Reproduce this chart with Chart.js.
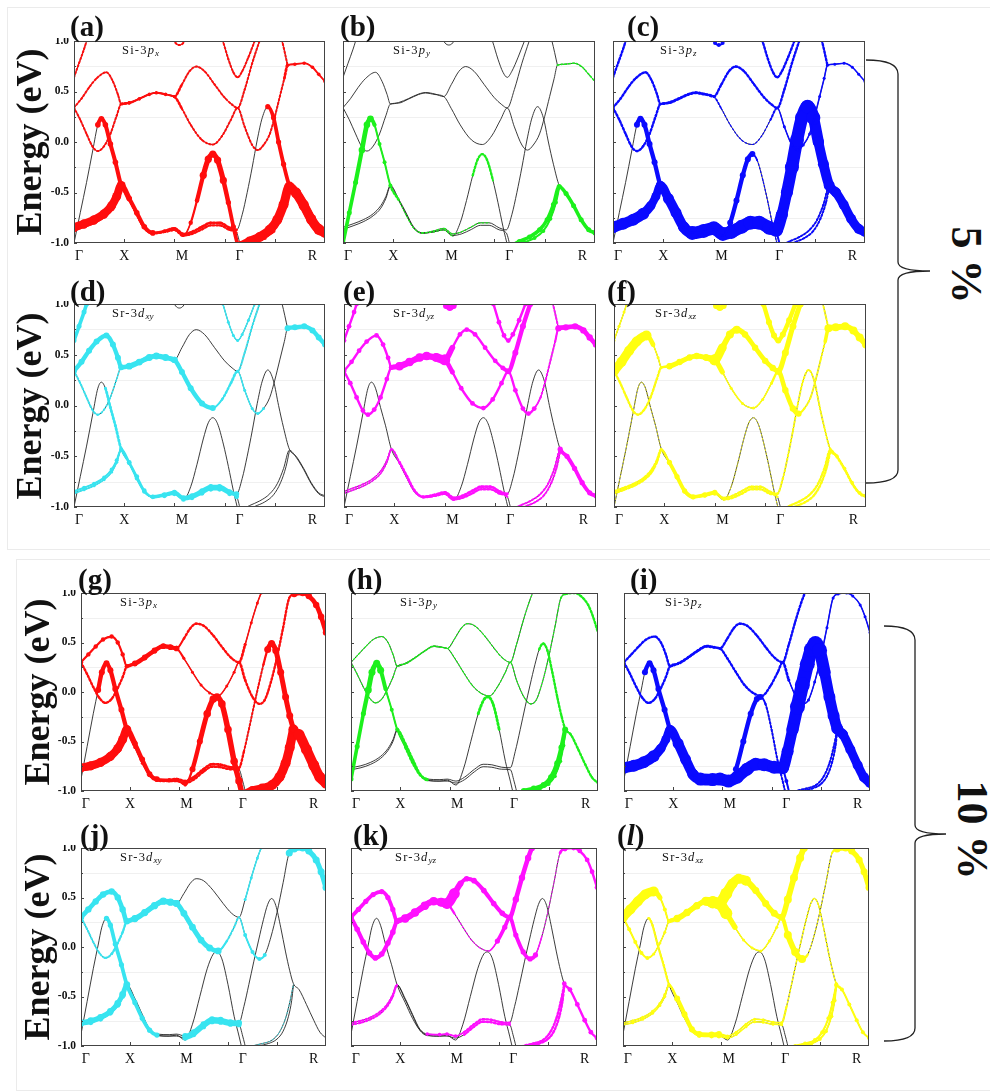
<!DOCTYPE html>
<html>
<head>
<meta charset="utf-8">
<script src="https://cdn.jsdelivr.net/npm/chart.js@4.4.1/dist/chart.umd.min.js"></script>
<style>
  body { margin: 0; width: 990px; height: 1091px; position: relative; background: #fff; overflow: hidden;
         font-family: "Liberation Serif", "DejaVu Serif", serif; color: #111; }
  .box { position: absolute; border: 1px solid #ebebeb; }
  canvas { position: absolute; }
  .tag { position: absolute; font-size: 29px; font-weight: bold; line-height: 28px; }
  .elab { position: absolute; width: 240px; height: 40px; line-height: 40px; text-align: center;
          font-size: 36px; font-weight: bold; transform: rotate(-90deg); white-space: nowrap; }
  .orb { position: absolute; font-size: 12.5px; line-height: 14px; letter-spacing: 1.2px; white-space: nowrap; }
  .orb sub { font-size: 9px; letter-spacing: 0; vertical-align: -2px; }
  .pct { position: absolute; width: 140px; height: 50px; line-height: 50px; text-align: center;
         font-size: 44px; font-weight: bold; transform: rotate(90deg); white-space: nowrap; }
  svg { position: absolute; left: 0; top: 0; }
</style>
</head>
<body>
<div class="box" style="left:7px;top:7px;width:983px;height:541px"></div>
<div class="box" style="left:16px;top:559px;width:975px;height:530px"></div>
<svg width="990" height="1091">
  <path d="M866,60 Q898,60 898,74 L898,262 Q898,271 930,271 Q898,271 898,280 L898,470 Q898,483 866,483" fill="none" stroke="#222" stroke-width="1.3"/>
  <path d="M884,626 Q915,626 915,640 L915,825 Q915,834 946,834 Q915,834 915,843 L915,1028 Q915,1041 884,1041" fill="none" stroke="#222" stroke-width="1.3"/>
</svg>
<div class="pct" style="left:896px;top:240px">5 %</div>
<div class="pct" style="left:902px;top:805px">10 %</div>

<script>
// k-path and energy axis
const kLabels = ['Γ', 'X', 'M', 'Γ', 'R'];
const kLabelPos = [0.02, 0.2, 0.43, 0.66, 0.95];
const kTicks = [0.2, 0.4, 0.6, 0.8];
const eTicks = [-1, -0.5, 0, 0.5, 1];
const eTickLabels = ['-1.0', '-0.5', '0.0', '0.5', '1.0'];
const eMinor = [-0.75, -0.25, 0.25, 0.75];

// 5 % bands, [k, E]
const g1P1 = [[0,0.34],[0.03,0.43],[0.06,0.54],[0.09,0.63],[0.129,0.69],[0.155,0.6],[0.175,0.47],[0.188,0.376],[0.22,0.39],[0.26,0.43],[0.3,0.475],[0.328,0.49],[0.365,0.475],[0.4,0.45],[0.43,0.57],[0.46,0.7],[0.487,0.747],[0.52,0.7],[0.56,0.57],[0.6,0.44],[0.63,0.37],[0.652,0.337],[0.68,0.52],[0.71,0.78],[0.739,1],[0.76,1.15]];
const g1P2 = [[0,0.34],[0.025,0.22],[0.05,0.08],[0.075,-0.05],[0.095,-0.09],[0.12,-0.04],[0.145,0.08],[0.17,0.26],[0.188,0.376],[0.22,0.385],[0.26,0.425],[0.3,0.47],[0.328,0.485],[0.365,0.47],[0.4,0.45],[0.43,0.33],[0.465,0.17],[0.51,0.02],[0.553,-0.025],[0.59,0.06],[0.625,0.22],[0.652,0.337],[0.68,0.15],[0.71,-0.03],[0.732,-0.08],[0.755,-0.03],[0.78,0.08],[0.8,0.25],[0.82,0.45],[0.838,0.63],[0.851,0.76],[0.88,0.77],[0.917,0.78],[0.95,0.74],[0.975,0.67],[1,0.6]];
const g1P3 = [[0,-1],[0.025,-0.7],[0.05,-0.4],[0.075,-0.08],[0.095,0.17],[0.109,0.23],[0.125,0.17],[0.145,-0.02],[0.165,-0.2],[0.188,-0.43],[0.22,-0.57],[0.25,-0.72],[0.28,-0.85],[0.314,-0.9],[0.36,-0.89],[0.4,-0.87],[0.436,-0.93],[0.465,-0.8],[0.49,-0.58],[0.515,-0.33],[0.535,-0.17],[0.553,-0.12],[0.572,-0.18],[0.595,-0.38],[0.615,-0.6],[0.635,-0.84],[0.655,-1.05]];
const g1P4 = [[0,-0.845],[0.04,-0.81],[0.08,-0.77],[0.12,-0.71],[0.15,-0.63],[0.17,-0.54],[0.188,-0.43],[0.22,-0.56],[0.25,-0.7],[0.28,-0.84],[0.314,-0.9],[0.36,-0.88],[0.4,-0.855],[0.436,-0.91],[0.47,-0.89],[0.51,-0.84],[0.545,-0.8],[0.58,-0.8],[0.62,-0.85],[0.648,-0.87],[0.67,-0.72],[0.69,-0.5],[0.71,-0.25],[0.73,0.02],[0.75,0.24],[0.772,0.35],[0.795,0.24],[0.815,0],[0.835,-0.22],[0.858,-0.43],[0.885,-0.5],[0.915,-0.62],[0.945,-0.76],[0.975,-0.86],[1,-0.89]];
const g1P5 = [[0,-0.865],[0.04,-0.83],[0.08,-0.79],[0.12,-0.73],[0.15,-0.655],[0.17,-0.56],[0.188,-0.44],[0.22,-0.57],[0.25,-0.71],[0.28,-0.85],[0.314,-0.905],[0.36,-0.89],[0.4,-0.87],[0.436,-0.925],[0.47,-0.91],[0.51,-0.865],[0.545,-0.825],[0.58,-0.825],[0.62,-0.87],[0.648,-0.9],[0.665,-1.05]];
const g1L1 = [[0.665,-1.03],[0.7,-0.985],[0.74,-0.94],[0.78,-0.87],[0.81,-0.77],[0.835,-0.62],[0.858,-0.44],[0.885,-0.51],[0.915,-0.63],[0.945,-0.77],[0.975,-0.87],[1,-0.9]];
const g1L2 = [[0.685,-1.04],[0.72,-0.995],[0.76,-0.95],[0.795,-0.88],[0.823,-0.76],[0.845,-0.6],[0.858,-0.45]];
const g1A = [[0,0.64],[0.02,0.78],[0.04,0.92],[0.05,1],[0.065,1.15]];
const g1G = [[0.57,1.15],[0.593,1],[0.615,0.82],[0.635,0.69],[0.652,0.64],[0.67,0.7],[0.695,0.84],[0.72,1],[0.74,1.12]];
const g1T = [[0.39,1.05],[0.405,0.98],[0.42,0.96],[0.435,0.98],[0.45,1.05]];
const g1K = [[0.81,1.15],[0.829,1],[0.851,0.76]];

// 10 % bands, [k, E]
const g2P1 = [[0,0.3],[0.03,0.38],[0.06,0.46],[0.09,0.53],[0.125,0.56],[0.15,0.5],[0.17,0.38],[0.187,0.26],[0.22,0.29],[0.26,0.35],[0.3,0.42],[0.336,0.465],[0.365,0.455],[0.39,0.44],[0.42,0.54],[0.445,0.64],[0.47,0.69],[0.5,0.67],[0.54,0.57],[0.58,0.44],[0.615,0.34],[0.645,0.3],[0.67,0.48],[0.695,0.7],[0.72,0.9],[0.735,1],[0.755,1.15]];
const g2P2 = [[0,0.3],[0.025,0.18],[0.05,0.05],[0.075,-0.06],[0.099,-0.11],[0.125,-0.07],[0.15,0.04],[0.17,0.15],[0.187,0.26],[0.22,0.285],[0.26,0.345],[0.3,0.415],[0.336,0.46],[0.365,0.45],[0.39,0.44],[0.42,0.34],[0.455,0.2],[0.49,0.07],[0.525,-0.01],[0.56,-0.04],[0.595,0.06],[0.625,0.2],[0.645,0.3],[0.67,0.12],[0.7,-0.05],[0.728,-0.12],[0.75,-0.08],[0.775,0.1],[0.8,0.35],[0.825,0.65],[0.85,0.95],[0.87,0.99],[0.905,1],[0.93,0.97],[0.96,0.88],[0.98,0.76],[1,0.6]];
const g2P3 = [[0,-0.88],[0.025,-0.55],[0.05,-0.22],[0.07,0.02],[0.085,0.2],[0.104,0.29],[0.12,0.22],[0.14,0.03],[0.165,-0.18],[0.187,-0.38],[0.22,-0.56],[0.25,-0.72],[0.28,-0.84],[0.31,-0.89],[0.36,-0.9],[0.39,-0.89],[0.425,-0.94],[0.455,-0.78],[0.485,-0.5],[0.515,-0.22],[0.54,-0.07],[0.555,-0.05],[0.575,-0.12],[0.6,-0.38],[0.625,-0.7],[0.645,-0.9],[0.66,-1.06]];
const g2P4 = [[0,-0.765],[0.04,-0.745],[0.08,-0.71],[0.12,-0.65],[0.15,-0.57],[0.17,-0.48],[0.187,-0.38],[0.22,-0.52],[0.25,-0.68],[0.28,-0.83],[0.31,-0.88],[0.36,-0.885],[0.39,-0.88],[0.425,-0.9],[0.46,-0.86],[0.5,-0.78],[0.535,-0.73],[0.57,-0.735],[0.61,-0.76],[0.645,-0.765],[0.665,-0.6],[0.685,-0.38],[0.705,-0.15],[0.725,0.07],[0.745,0.28],[0.762,0.43],[0.778,0.49],[0.795,0.42],[0.815,0.2],[0.835,-0.05],[0.852,-0.24],[0.867,-0.37],[0.89,-0.43],[0.92,-0.58],[0.95,-0.74],[0.975,-0.86],[1,-0.92]];
const g2P5 = [[0,-0.785],[0.04,-0.765],[0.08,-0.73],[0.12,-0.67],[0.15,-0.59],[0.17,-0.5],[0.187,-0.39],[0.22,-0.53],[0.25,-0.69],[0.28,-0.84],[0.31,-0.895],[0.36,-0.9],[0.39,-0.9],[0.425,-0.92],[0.46,-0.885],[0.5,-0.805],[0.535,-0.755],[0.57,-0.76],[0.61,-0.78],[0.645,-0.785],[0.66,-0.9],[0.675,-1.05]];
const g2L1 = [[0.665,-1.04],[0.7,-1],[0.74,-0.975],[0.78,-0.94],[0.81,-0.86],[0.835,-0.72],[0.852,-0.56],[0.867,-0.38]];
const g2L2 = [[0.69,-1.04],[0.725,-1],[0.765,-0.975],[0.8,-0.93],[0.825,-0.85],[0.847,-0.7],[0.86,-0.54],[0.867,-0.39]];

// orbital weights (marker radius) per panel: [kFrom, kTo, radius] or one radius for the whole band
const wA = { P1: [[0,0.188,1],[0.188,0.4,1.6],[0.4,1,1]], P2: [[0,0.188,1],[0.188,0.4,1.6],[0.4,0.84,1],[0.84,1,1.8]],
  P3: [[0.08,0.2,2.8],[0.2,0.44,1.2],[0.44,0.5,2.2],[0.5,0.6,3.6],[0.6,0.66,2.6]],
  P4: [[0,0.188,4.5],[0.188,0.32,2.8],[0.32,0.65,1.4],[0.76,0.858,2.6],[0.858,1,5]],
  P5: [[0,0.188,3],[0.188,0.65,1.2]], L1: 5, L2: 2, A: 1, G: 1, T: 1, K: 1 };
const wB = { P2: [[0.84,1,0.8]], P3: [[0,0.06,2.5],[0.06,0.12,3.3],[0.12,0.188,2],[0.188,0.44,0.6],[0.5,0.6,1.2]],
  P4: [[0.3,0.6,0.6],[0.858,1,0.8]], L1: 2.5, L2: 2 };
const wC = { P1: 1.2, P2: [[0,0.4,1.2],[0.4,0.65,0.6],[0.65,1,1.5]],
  P3: [[0.08,0.188,3],[0.188,0.44,1.2],[0.44,0.56,3],[0.56,0.66,0.6]],
  P4: [[0,0.12,6],[0.12,0.188,4.5],[0.188,0.3,5.5],[0.3,0.65,7],[0.65,0.7,6],[0.7,0.8,7],[0.8,0.858,5.5],[0.858,1,5]],
  P5: 2, L1: 1, L2: 1, A: 1.2, G: 1.2, T: 2, K: 1.2 };
const wD = { P1: [[0,0.188,3],[0.188,0.4,3.2],[0.65,0.76,1]],
  P2: [[0,0.1,1],[0.1,0.188,0.8],[0.188,0.4,3.2],[0.4,0.56,3],[0.56,0.65,1.2],[0.65,0.76,1.5],[0.84,1,3]],
  P3: [[0.11,0.188,1.4],[0.188,0.32,2]], P4: [[0,0.188,2],[0.188,0.32,2.4],[0.32,0.65,2.6]],
  P5: [[0,0.188,1.6],[0.32,0.65,2.4]], A: 2.5, G: 1.5 };
const wE = { P1: [[0,0.188,2.4],[0.188,0.38,4],[0.38,0.42,5.5],[0.42,0.65,2.4],[0.65,0.76,3]],
  P2: [[0,0.188,2.4],[0.188,0.4,4],[0.4,0.76,2.4],[0.76,0.84,1],[0.84,1,3.2]],
  P3: [[0.3,0.45,1.2]], P4: [[0,0.188,0.8],[0.188,0.65,1.4],[0.858,1,2.6]],
  P5: [[0,0.188,0.8],[0.3,0.65,1.2]], L1: 1, L2: 1, A: 2.4, G: 2.4, T: 3, K: 1 };
const wF = { P1: [[0,0.14,5],[0.14,0.188,1.5],[0.188,0.38,3],[0.38,0.42,5.5],[0.42,0.5,4],[0.5,0.65,3.2],[0.65,0.76,3.5]],
  P2: [[0,0.188,1.2],[0.188,0.38,3],[0.38,0.42,5.5],[0.42,0.65,1.5],[0.65,0.74,3.2],[0.74,0.84,1],[0.84,1,4]],
  P3: 0.4, P4: [[0,0.188,1.2],[0.188,0.4,2.6],[0.4,0.65,1.2],[0.65,0.858,1],[0.858,1,1.8]],
  P5: [[0,0.188,1.2],[0.188,0.4,2],[0.4,0.65,1.2]], L1: 1.2, L2: 1.2, A: 1.5, G: 3, T: 3, K: 1 };
const wG = { P1: [[0,0.187,2.2],[0.187,0.4,2.8],[0.4,0.65,1.2],[0.65,1,1.5]],
  P2: [[0,0.187,1.2],[0.187,0.4,2.6],[0.4,0.65,1.5],[0.65,0.85,1.2],[0.85,1,3.2]],
  P3: [[0.06,0.187,3],[0.187,0.43,1.5],[0.43,0.51,3],[0.51,0.66,3.8]],
  P4: [[0,0.187,4.5],[0.187,0.31,2.8],[0.31,0.65,1.4],[0.65,0.76,1],[0.76,0.867,3.5],[0.867,1,5.5]],
  P5: [[0,0.187,2.6],[0.187,0.65,1.2]], L1: 5, L2: 2 };
const wH = { P1: 0.6, P2: [[0,0.85,0.6],[0.85,1,1.2]],
  P3: [[0,0.06,2.5],[0.06,0.125,3.5],[0.125,0.187,2],[0.187,0.35,1.2],[0.5,0.6,1.4]],
  P4: [[0.187,0.35,1.2],[0.76,1,1.2]], P5: [[0.187,0.35,0.8]], L1: 3, L2: 2 };
const wI = { P1: 1.2, P2: [[0,0.65,1.2],[0.65,1,1.5]],
  P3: [[0.08,0.187,3],[0.187,0.43,1.2],[0.43,0.56,3],[0.56,0.66,1]],
  P4: [[0,0.12,6],[0.12,0.187,4.5],[0.187,0.3,5.5],[0.3,0.65,6.5],[0.65,0.7,6],[0.7,0.8,7.5],[0.8,0.867,6],[0.867,1,5]],
  P5: 2, L1: 1, L2: 1 };
const wJ = { P1: [[0,0.187,3.2],[0.187,0.4,3.4],[0.65,0.76,1.5]],
  P2: [[0,0.1,1],[0.1,0.187,1.2],[0.187,0.4,3.4],[0.4,0.56,3.4],[0.56,0.65,1],[0.65,0.76,2],[0.85,1,3.5]],
  P3: [[0.1,0.32,2.6]], P4: [[0,0.187,3.4],[0.4,0.65,3]], P5: [[0,0.187,2.4],[0.4,0.65,2.6]], L1: 0.4 };
const wK = { P1: [[0,0.187,2.6],[0.187,0.38,4],[0.38,0.42,5.5],[0.42,0.65,2.8],[0.65,0.76,3.2]],
  P2: [[0,0.187,2.8],[0.187,0.4,4],[0.4,0.56,0.6],[0.56,0.76,2.6],[0.76,0.85,0.5],[0.85,1,2.4]],
  P4: [[0,0.187,1],[0.3,0.45,1.8],[0.45,0.65,1.2],[0.867,1,2.4]],
  P5: [[0,0.187,1],[0.45,0.65,1.2]], L1: 1.2, L2: 1.2 };
const wL = { P1: [[0,0.125,5],[0.125,0.187,2],[0.187,0.36,3.5],[0.36,0.42,6],[0.42,0.52,5],[0.52,0.65,3.5],[0.65,0.76,4]],
  P2: [[0,0.1,2],[0.1,0.187,1.5],[0.187,0.36,3.5],[0.36,0.42,6],[0.42,0.65,1.5],[0.65,0.74,4],[0.74,0.85,0.6],[0.85,1,3.5]],
  P3: [[0.1,0.2,1.2]], P4: [[0,0.187,1.5],[0.187,0.4,3],[0.4,0.65,1.5],[0.65,0.867,0.8],[0.867,1,2]],
  P5: [[0,0.187,1.5],[0.187,0.4,2.4],[0.4,0.65,1.5]], L1: 2, L2: 2 };

const RED = '#ff0d0d', GREEN = '#1cf01c', BLUE = '#0a0aff', CYAN = '#38e4f0', MAGENTA = '#ff10ff', YELLOW = '#ffff10';
const LINE = '#262626';

const bandSets = {
  1: { P1: g1P1, P2: g1P2, P3: g1P3, P4: g1P4, P5: g1P5, L1: g1L1, L2: g1L2, A: g1A, G: g1G, T: g1T, K: g1K },
  2: { P1: g2P1, P2: g2P2, P3: g2P3, P4: g2P4, P5: g2P5, L1: g2L1, L2: g2L2 }
};

// panel layout: rect = plot area [left, top, width, height]
const panels = [
  { tag: '(a)', grp: 1, w: wA, color: RED,     el: 'Si', o: 'p', s: 'x',  rect: [74, 41, 251, 202],  tagAt: [70, 12],   dx: 48, ylab: true },
  { tag: '(b)', grp: 1, w: wB, color: GREEN,   el: 'Si', o: 'p', s: 'y',  rect: [343, 41, 252, 202], tagAt: [340, 12],  dx: 50 },
  { tag: '(c)', grp: 1, w: wC, color: BLUE,    el: 'Si', o: 'p', s: 'z',  rect: [613, 41, 252, 202], tagAt: [627, 12],  dx: 47 },
  { tag: '(d)', grp: 1, w: wD, color: CYAN,    el: 'Sr', o: 'd', s: 'xy', rect: [74, 304, 251, 203], tagAt: [70, 277],  dx: 38, ylab: true },
  { tag: '(e)', grp: 1, w: wE, color: MAGENTA, el: 'Sr', o: 'd', s: 'yz', rect: [344, 304, 252, 203], tagAt: [343, 277], dx: 49 },
  { tag: '(f)', grp: 1, w: wF, color: YELLOW,  el: 'Sr', o: 'd', s: 'xz', rect: [614, 304, 252, 203], tagAt: [607, 277], dx: 41 },
  { tag: '(g)', grp: 2, w: wG, color: RED,     el: 'Si', o: 'p', s: 'x',  rect: [81, 593, 245, 198],  tagAt: [78, 565],  dx: 39, ylab: true },
  { tag: '(h)', grp: 2, w: wH, color: GREEN,   el: 'Si', o: 'p', s: 'y',  rect: [351, 593, 247, 198], tagAt: [347, 565], dx: 49 },
  { tag: '(i)', grp: 2, w: wI, color: BLUE,    el: 'Si', o: 'p', s: 'z',  rect: [624, 593, 246, 198], tagAt: [630, 565], dx: 41 },
  { tag: '(j)', grp: 2, w: wJ, color: CYAN,    el: 'Sr', o: 'd', s: 'xy', rect: [81, 848, 245, 198],  tagAt: [80, 821],  dx: 39, ylab: true },
  { tag: '(k)', grp: 2, w: wK, color: MAGENTA, el: 'Sr', o: 'd', s: 'yz', rect: [351, 848, 246, 198], tagAt: [353, 821], dx: 44 },
  { tag: '(<i>l</i>)', grp: 2, w: wL, color: YELLOW, el: 'Sr', o: 'd', s: 'xz', rect: [623, 848, 246, 198], tagAt: [617, 821], dx: 39 }
];

const PL = 40, PR = 3, PT = 3, PB = 24;

// frame, ticks and k-point labels
const framePlugin = {
  id: 'frame',
  beforeDatasetsDraw(chart) {
    const { ctx, chartArea: a, scales: { y } } = chart;
    ctx.save();
    ctx.strokeStyle = '#f0f0f0';
    ctx.lineWidth = 1;
    eMinor.forEach(v => {
      const py = Math.round(y.getPixelForValue(v)) + 0.5;
      ctx.beginPath(); ctx.moveTo(a.left, py); ctx.lineTo(a.right, py); ctx.stroke();
    });
    ctx.restore();
  },
  afterDraw(chart, args, opts) {
    const { ctx, chartArea: a, scales: { x, y } } = chart;
    ctx.save();
    ctx.strokeStyle = '#444';
    ctx.lineWidth = 1;
    ctx.strokeRect(a.left + 0.5, a.top + 0.5, a.right - a.left - 1, a.bottom - a.top - 1);
    ctx.beginPath();
    eTicks.concat(eMinor).forEach(v => {
      const py = Math.round(y.getPixelForValue(v)) + 0.5;
      ctx.moveTo(a.left, py); ctx.lineTo(a.left + (eTicks.includes(v) ? 3 : 2), py);
    });
    kTicks.forEach(v => {
      const px = Math.round(x.getPixelForValue(v)) + 0.5;
      ctx.moveTo(px, a.bottom); ctx.lineTo(px, a.bottom - 4);
    });
    ctx.stroke();

    ctx.fillStyle = '#111';
    ctx.font = '14px "Liberation Serif"';
    ctx.textAlign = 'center';
    ctx.textBaseline = 'alphabetic';
    kLabels.forEach((s, i) => ctx.fillText(s, x.getPixelForValue(kLabelPos[i]), a.bottom + 17));

    if (opts.ylab) {
      ctx.font = 'bold 11.5px "Liberation Serif"';
      ctx.textAlign = 'right';
      ctx.textBaseline = 'middle';
      eTicks.forEach((v, i) => ctx.fillText(eTickLabels[i], a.left - 5, y.getPixelForValue(v)));
    }
    ctx.restore();
  }
};

function radiiFor(pts, w) {
  if (w === undefined) return pts.map(() => 0);
  if (typeof w === 'number') return pts.map(() => w);
  return pts.map(p => {
    const s = w.find(r => p[0] >= r[0] && p[0] <= r[1]);
    return s ? s[2] : 0;
  });
}

// ribbon width between two markers: heavy bands merge, light ones stay beaded/dotted
function segWidth(r0, r1) {
  const avg = (r0 + r1) / 2;
  if (avg < 1.5) return r0 + r1;
  if (avg >= 4.5) return (r0 + r1) * 0.9;
  return (r0 + r1) * (avg >= 2.5 ? 0.72 : 0.5);
}

function addText(cls, html, left, top) {
  const d = document.createElement('div');
  d.className = cls;
  d.innerHTML = html;
  d.style.left = left + 'px';
  d.style.top = top + 'px';
  document.body.appendChild(d);
}

panels.forEach(p => {
  const [l, t, w, h] = p.rect;
  const cv = document.createElement('canvas');
  cv.width = w + PL + PR;
  cv.height = h + PT + PB;
  cv.style.left = (l - PL) + 'px';
  cv.style.top = (t - PT) + 'px';
  document.body.appendChild(cv);

  const datasets = [];
  Object.entries(bandSets[p.grp]).forEach(([name, pts]) => {
    datasets.push({
      data: pts.map(q => ({ x: q[0], y: q[1] })),
      borderColor: LINE, borderWidth: 0.9, pointRadius: 0,
      cubicInterpolationMode: 'monotone', clip: 0, order: 2
    });
    const r = radiiFor(pts, p.w[name]);
    if (r.some(v => v > 0)) {
      datasets.push({
        data: pts.map(q => ({ x: q[0], y: q[1] })),
        borderColor: p.color, borderWidth: 1, borderCapStyle: 'round', borderJoinStyle: 'round',
        pointRadius: r.map(v => v < 1.5 ? v * 0.9 : v), pointBackgroundColor: p.color, pointBorderWidth: 0,
        cubicInterpolationMode: 'monotone', clip: 0, order: 1,
        segment: {
          borderWidth: c => Math.max(0.1, segWidth(r[c.p0DataIndex], r[c.p1DataIndex])),
          borderDash: c => ((r[c.p0DataIndex] + r[c.p1DataIndex]) / 2 < 1.5 ? [1.6, 2.2] : undefined),
          borderColor: c => (r[c.p0DataIndex] > 0 && r[c.p1DataIndex] > 0) ? p.color : 'rgba(0,0,0,0)'
        }
      });
    }
  });

  new Chart(cv, {
    type: 'line',
    data: { datasets },
    options: {
      animation: false,
      responsive: false,
      events: [],
      layout: { padding: { left: PL, right: PR, top: PT, bottom: PB }, autoPadding: false },
      plugins: { legend: { display: false }, tooltip: { enabled: false }, frame: { ylab: !!p.ylab } },
      scales: {
        x: { type: 'linear', min: 0, max: 1, display: false },
        y: { type: 'linear', min: -1, max: 1, display: false }
      }
    },
    plugins: [framePlugin]
  });

  addText('tag', p.tag, p.tagAt[0], p.tagAt[1]);
  addText('orb', `${p.el}-3<i>${p.o}</i><sub><i>${p.s}</i></sub>`, l + p.dx, t + 2);
  if (p.ylab) {
    const cx = p.grp === 1 ? 29 : 37;
    addText('elab', 'Energy (eV)', cx - 120, t + h / 2 - 20);
  }
});
</script>
</body>
</html>
